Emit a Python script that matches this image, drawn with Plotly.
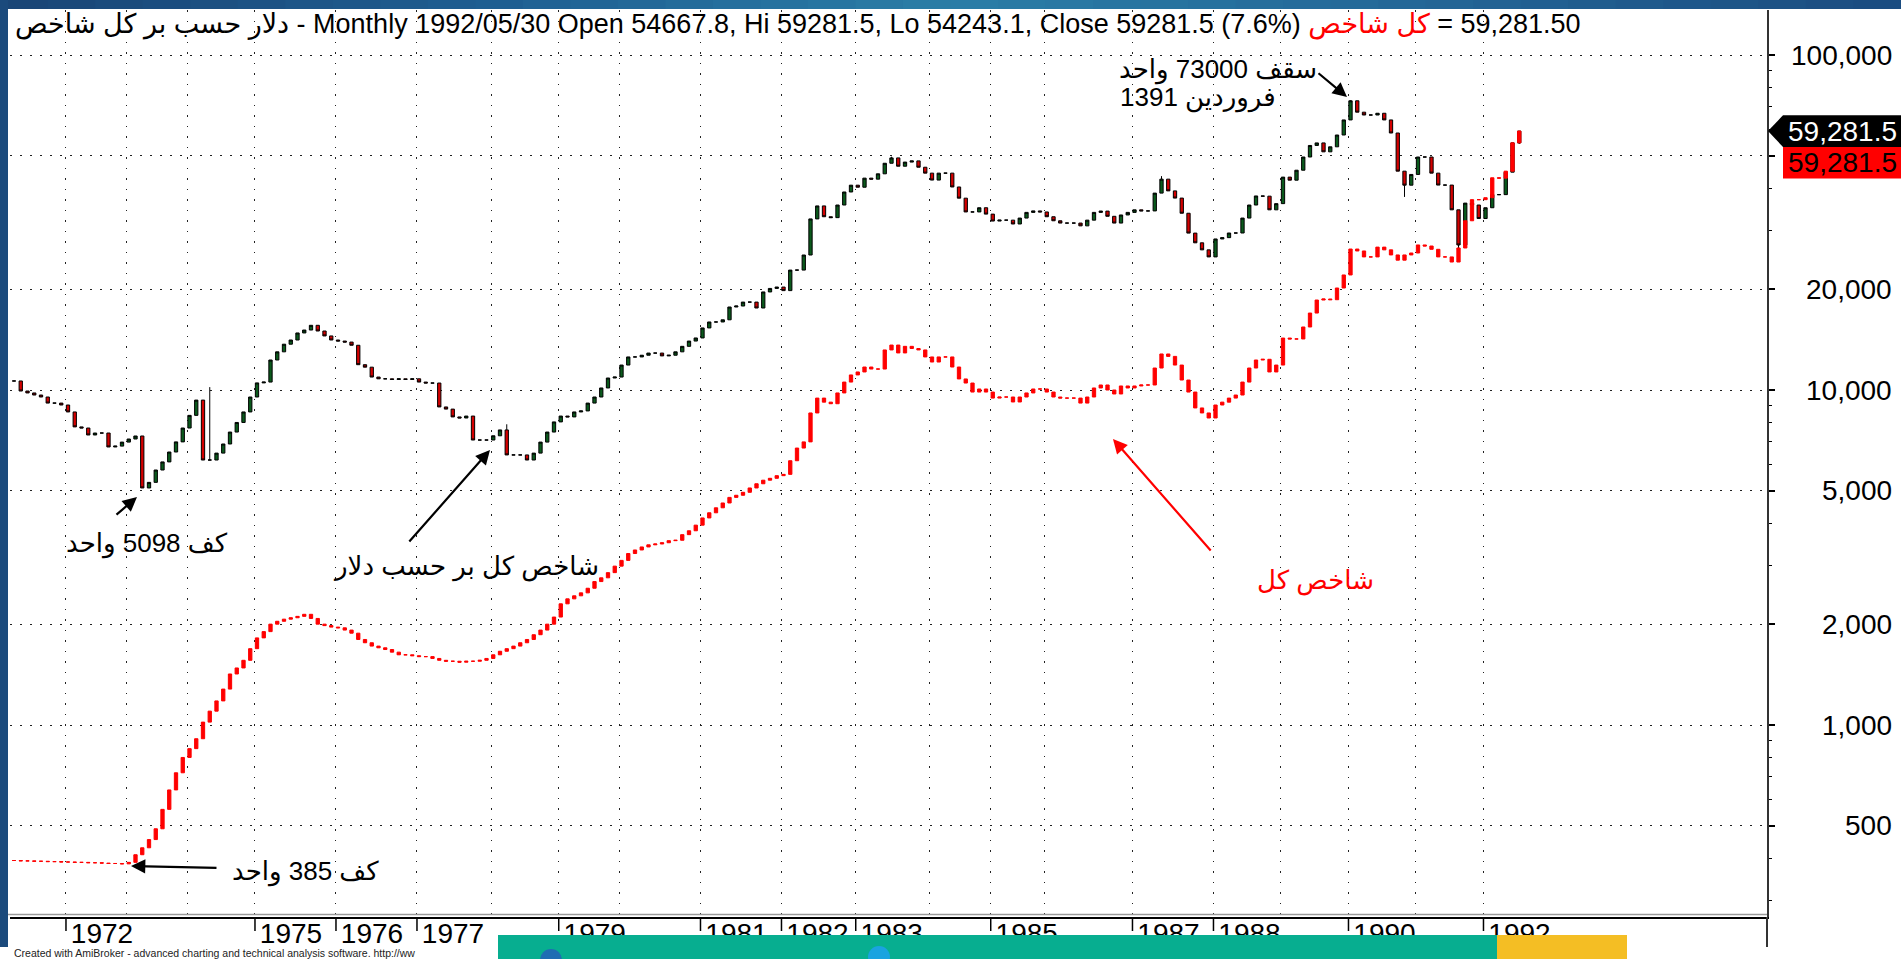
import math
import plotly.graph_objects as go

# ---------------- data ----------------
dollar_close = [
    10640, 9930, 9800, 9660, 9530, 9140, 9140, 9020, 8600, 7760,
    7700, 7340, 7440, 7440, 6760, 6800, 6990, 7140, 7290, 5100,
    5300, 5770, 6100, 6530, 7000, 7700, 8400, 9330, 6180, 6180,
    6480, 6900, 7490, 8000, 8600, 9530, 10500, 10560, 12290, 13000,
    13700, 14100, 14800, 15100, 15600, 15000, 14500, 14100, 14000, 13900,
    13600, 11900, 11700, 10930, 10800, 10800, 10750, 10800, 10750, 10800,
    10560, 10490, 10490, 8900, 8770, 8310, 8250, 8360, 7090, 7090,
    7090, 7300, 7600, 6400, 6400, 6400, 6180, 6480, 6990, 7490,
    8030, 8360, 8310, 8600, 8660, 9140, 9530, 10140, 10860, 10930,
    11870, 12550, 12550, 12700, 12890, 12890, 12640, 12700, 13000, 13500,
    14000, 14300, 15320, 15960, 15960, 16200, 17690, 17810, 18300, 18300,
    17570, 19620, 20100, 20290, 19800, 22800, 22800, 25290, 32410, 35440,
    32900, 32700, 35660, 39000, 40870, 40300, 42900, 42600, 44190, 47520,
    49300, 46560, 47900, 48300, 46240, 44400, 42330, 44400, 44400, 40370,
    37380, 34000, 34000, 35000, 33500, 31940, 32140, 32140, 31300, 32600,
    33900, 34240, 34000, 32900, 32000, 31500, 31500, 31500, 30900, 32140,
    33900, 34200, 33000, 31500, 33300, 33900, 34500, 34240, 34240, 38700,
    42600, 39300, 37400, 33700, 29400, 27500, 26200, 24960, 28240, 28500,
    29420, 29420, 32600, 35660, 37950, 37900, 34500, 36000, 43200, 42300,
    45300, 49600, 53700, 54650, 51400, 53200, 57700, 64000, 73000, 67500,
    66200, 66200, 67000, 64000, 58500, 45000, 40870, 44000, 49600, 49600,
    44400, 40900, 40900, 34500, 27100, 36130, 35660, 32500, 35000, 38300,
    38300, 44700, 54667.8, 59281.5,
]
dollar_wick_high = {29: 10200, 73: 7900, 130: 49700, 170: 43500, 198: 73300}
dollar_wick_low = {206: 37700, 214: 24900, 223: 54243.1}

index_close = [
    394, 393, 393, 392, 392, 391, 391, 390, 390, 389,
    389, 388, 388, 387, 386, 386, 385, 389, 410, 430,
    455, 490, 560, 640, 720, 800, 850, 910, 1020, 1100,
    1180, 1280, 1420, 1480, 1560, 1690, 1820, 1900, 2000, 2040,
    2070, 2090, 2110, 2140, 2080, 2000, 1980, 1960, 1950, 1920,
    1880, 1800, 1760, 1720, 1700, 1680, 1650, 1620, 1620, 1610,
    1600, 1600, 1580, 1560, 1550, 1550, 1540, 1550, 1550, 1560,
    1580, 1620, 1660, 1690, 1720, 1760, 1800, 1860, 1920, 2000,
    2100, 2300, 2380, 2430, 2480, 2560, 2680, 2750, 2850, 2980,
    3100, 3250, 3330, 3400, 3450, 3470, 3500, 3550, 3560, 3700,
    3800, 3950, 4150, 4300, 4450, 4600, 4780, 4850, 4950, 5100,
    5250, 5380, 5450, 5550, 5600, 6150, 6710, 7000, 8540, 9460,
    9200, 9100, 9800, 10560, 11090, 11320, 11710, 11550, 11550, 13170,
    13620, 12900, 13500, 13300, 13170, 12550, 12120, 12550, 12550, 11710,
    10790, 10490, 9860, 10070, 9860, 9460, 9530, 9530, 9210, 9530,
    9800, 10070, 10070, 9860, 9530, 9460, 9460, 9460, 9140, 9530,
    10140, 10350, 10000, 9730, 10280, 10140, 10280, 10350, 10350, 11630,
    12810, 12600, 11870, 10710, 9860, 8840, 8540, 8250, 9020, 9200,
    9460, 9660, 10560, 11630, 12290, 12350, 11320, 11870, 14290, 14200,
    14200, 15420, 16970, 18560, 18690, 18600, 20160, 22050, 26350, 26000,
    24960, 24960, 26700, 26200, 25300, 24410, 25300, 25640, 27100, 26900,
    26300, 24960, 24960, 24100, 26540, 32000, 37000, 37000, 37500, 43000,
    42900, 45000, 54667.8, 59281.5,
]

year_labels = ["1972", "1973", "1974", "1975", "1976", "1977", "1978", "1979",
               "1980", "1981", "1982", "1983", "1984", "1985", "1986", "1987",
               "1988", "1989", "1990", "1991", "1992"]
year_first_bar = [8, 17, 26, 36, 48, 60, 71, 81, 90, 102, 114, 125, 136, 145,
                  153, 166, 178, 188, 198, 208, 218]
shown_years = ["1972", "1975", "1976", "1977", "1979", "1981", "1982", "1983",
               "1985", "1987", "1988", "1990", "1992"]

y_tick_values = [500, 1000, 2000, 5000, 10000, 20000, 50000, 100000]
y_tick_labels = ["500", "1,000", "2,000", "5,000", "10,000", "20,000", "", "100,000"]
y_minor_values = [300, 400, 600, 700, 800, 900, 3000, 4000, 6000, 7000, 8000,
                  9000, 30000, 40000, 60000, 70000, 80000, 90000]

last_close = 59281.5
last_label = "59,281.5"

# the title line of the reference lays its Persian words out left-to-right
title_left = "دلار حسب بر کل شاخص"
title_mid = " - Monthly 1992/05/30 Open 54667.8, Hi 59281.5, Lo 54243.1, Close 59281.5 (7.6%) "
title_red = "کل شاخص"
title_end = " = 59,281.50"

# ---------------- geometry (pixels of the 1901x959 page) ----------------
W, H = 1901, 959
PL, PR, PT, PB = 10, 1767, 10, 917
BAR0_PX, BAR_PX = 14.0, 6.75
Y10K_PX, DEC_PX = 390.0, 335.0

x_range = [(PL - BAR0_PX) / BAR_PX, (PR - BAR0_PX) / BAR_PX]
y_range = [4 - (PB - Y10K_PX) / DEC_PX, 4 + (Y10K_PX - PT) / DEC_PX]


def pxx(x):
    return (x - PL) / (PR - PL)


def pxy(y):
    return (PB - y) / (PB - PT)


def val_to_py(v):
    return PB - (math.log10(v) - y_range[0]) / (y_range[1] - y_range[0]) * (PB - PT)


FONT = "Arial, Liberation Sans, DejaVu Sans, sans-serif"


def build_ohlc(closes, whi=None, wlo=None):
    whi = whi or {}
    wlo = wlo or {}
    opens = [closes[0]] + closes[:-1]
    highs = [max(o, c, whi.get(i, 0)) for i, (o, c) in enumerate(zip(opens, closes))]
    lows = [min(o, c, wlo.get(i, float("inf"))) for i, (o, c) in enumerate(zip(opens, closes))]
    return opens, highs, lows


bars = list(range(len(dollar_close)))
d_open, d_high, d_low = build_ohlc(dollar_close, dollar_wick_high, dollar_wick_low)
i_open, i_high, i_low = build_ohlc(index_close)

fig = go.Figure()
fig.add_trace(go.Candlestick(
    x=bars, open=d_open, high=d_high, low=d_low, close=dollar_close,
    increasing=dict(line=dict(color="#000000", width=1), fillcolor="#0a5a1c"),
    decreasing=dict(line=dict(color="#000000", width=1), fillcolor="#d40000"),
    whiskerwidth=0, hoverinfo="skip", showlegend=False,
))
fig.add_trace(go.Candlestick(
    x=bars, open=i_open, high=i_high, low=i_low, close=index_close,
    increasing=dict(line=dict(color="#ff0000", width=1), fillcolor="#ff0000"),
    decreasing=dict(line=dict(color="#ff0000", width=1), fillcolor="#ff0000"),
    whiskerwidth=0, hoverinfo="skip", showlegend=False,
))

tick_pos = [b - 0.3 for b in year_first_bar]
tick_text = [y if y in shown_years else "" for y in year_labels]

shapes = []
annotations = []

# top gradient band
stops = [(0, (26, 69, 118)), (500, (31, 95, 146)), (950, (43, 126, 167)),
         (1400, (36, 104, 152)), (1901, (27, 76, 128))]
seg = 40
for k in range(seg):
    x0 = W * k / seg
    x1 = W * (k + 1) / seg
    xm = (x0 + x1) / 2
    for (a, ca), (b, cb) in zip(stops[:-1], stops[1:]):
        if a <= xm <= b:
            t = (xm - a) / (b - a)
            col = tuple(int(ca[j] + (cb[j] - ca[j]) * t) for j in range(3))
            break
    shapes.append(dict(type="rect", xref="paper", yref="paper", layer="above",
                       x0=pxx(x0), x1=pxx(x1 + 1), y0=pxy(0), y1=pxy(9),
                       fillcolor="rgb(%d,%d,%d)" % col, line=dict(width=0)))
# left band
shapes.append(dict(type="rect", xref="paper", yref="paper", layer="above",
                   x0=pxx(0), x1=pxx(8), y0=pxy(0), y1=pxy(947),
                   fillcolor="#1b4a7c", line=dict(width=0)))
# 3D double line above the x-axis
shapes.append(dict(type="line", xref="paper", yref="paper", layer="above",
                   x0=pxx(8), x1=pxx(PR), y0=pxy(914.5), y1=pxy(914.5),
                   line=dict(color="#9a9a9a", width=1.5)))
# right axis extension through the label strip
shapes.append(dict(type="line", xref="paper", yref="paper", layer="above",
                   x0=1, x1=1, y0=0, y1=pxy(947), line=dict(color="#333333", width=2)))
# short tick lines next to the shown year labels
for p, y in zip(tick_pos, year_labels):
    if y in shown_years:
        shapes.append(dict(type="line", xref="x", yref="paper", layer="above",
                           x0=p, x1=p, y0=0, y1=pxy(931),
                           line=dict(color="#000000", width=1.5)))

# price tags at the right
ty = val_to_py(last_close)
tag_top, tag_bot = ty - 15.7, ty + 16
path = "M {} {} L {} {} L {} {} L {} {} L {} {} Z".format(
    pxx(1768), pxy(ty), pxx(1783), pxy(tag_top), pxx(1905), pxy(tag_top),
    pxx(1905), pxy(tag_bot), pxx(1783), pxy(tag_bot))
shapes.append(dict(type="path", xref="paper", yref="paper", layer="above", path=path,
                   fillcolor="#000000", line=dict(width=0)))
shapes.append(dict(type="rect", xref="paper", yref="paper", layer="above",
                   x0=pxx(1783), x1=pxx(1905), y0=pxy(tag_bot), y1=pxy(tag_bot + 31.5),
                   fillcolor="#ff0000", line=dict(width=0)))
annotations.append(dict(xref="paper", yref="paper", x=pxx(1786), y=pxy(ty),
                        xanchor="left", yanchor="middle", showarrow=False,
                        text=last_label, font=dict(family=FONT, size=28, color="#ffffff")))
annotations.append(dict(xref="paper", yref="paper", x=pxx(1786), y=pxy(tag_bot + 15.7),
                        xanchor="left", yanchor="middle", showarrow=False,
                        text=last_label, font=dict(family=FONT, size=28, color="#000000")))

# bottom banner
shapes.append(dict(type="rect", xref="paper", yref="paper", layer="above",
                   x0=pxx(498), x1=pxx(1497), y0=pxy(935), y1=pxy(962),
                   fillcolor="#07ae90", line=dict(width=0)))
shapes.append(dict(type="rect", xref="paper", yref="paper", layer="above",
                   x0=pxx(1497), x1=pxx(1627), y0=pxy(935), y1=pxy(962),
                   fillcolor="#f4be24", line=dict(width=0)))
shapes.append(dict(type="circle", xref="paper", yref="paper", layer="above",
                   x0=pxx(540), x1=pxx(562), y0=pxy(949), y1=pxy(971),
                   fillcolor="#1f6db3", line=dict(width=0)))
shapes.append(dict(type="circle", xref="paper", yref="paper", layer="above",
                   x0=pxx(868), x1=pxx(890), y0=pxy(946), y1=pxy(968),
                   fillcolor="#1aa3e0", line=dict(width=0)))

# right-aligned y tick labels
for v, lab in zip(y_tick_values, y_tick_labels):
    if lab:
        annotations.append(dict(xref="paper", yref="y", x=pxx(1894), y=math.log10(v),
                                xanchor="right", yanchor="middle", showarrow=False,
                                text=lab, font=dict(family=FONT, size=28, color="#000000")))

# title line
annotations.append(dict(
    xref="paper", yref="paper", x=pxx(13), y=pxy(25), xanchor="left", yanchor="middle",
    showarrow=False,
    text="\u200e" + title_left + "\u200e" + title_mid + '<span style="color:#ff0000">'
         + title_red + "</span>\u200e" + title_end,
    font=dict(family=FONT, size=27, color="#000000")))

# footer
annotations.append(dict(
    xref="paper", yref="paper", x=pxx(12), y=pxy(953.5), xanchor="left", yanchor="middle",
    showarrow=False,
    text="Created with AmiBroker - advanced charting and technical analysis software. http://ww",
    font=dict(family=FONT, size=10.5, color="#222222")))

# text notes
notes = [
    ("سقف 73000 واحد", 1117, 69, "#000000"),
    ("فروردین 1391", 1118, 98, "#000000"),
    ("کف 5098 واحد", 64, 543, "#000000"),
    ("شاخص کل بر حسب دلار", 331, 566, "#000000"),
    ("شاخص کل", 1255, 580, "#ff0000"),
    ("کف 385 واحد", 230, 871, "#000000"),
]
for txt, x, y, col in notes:
    annotations.append(dict(xref="paper", yref="paper", x=pxx(x), y=pxy(y),
                            xanchor="left", yanchor="middle", showarrow=False,
                            text=txt, font=dict(family=FONT, size=26, color=col)))

# arrows: (tail_x, tail_y, tip_x, tip_y, colour)
arrows = [
    (1317, 72, 1347, 97, "#000000"),
    (115, 516, 137, 497, "#000000"),
    (408, 543, 490, 450, "#000000"),
    (1212, 552, 1113, 439, "#ff0000"),
    (218, 868, 131, 866, "#000000"),
]
for tx, tyy, hx, hy, col in arrows:
    annotations.append(dict(xref="paper", yref="paper", x=pxx(hx), y=pxy(hy),
                            ax=tx - hx, ay=tyy - hy, axref="pixel", ayref="pixel",
                            text="", showarrow=True, arrowhead=2, arrowsize=1.3,
                            arrowwidth=2.2, arrowcolor=col, standoff=0))

fig.update_layout(
    width=W, height=H, autosize=False,
    margin=dict(l=PL, r=W - PR, t=PT, b=H - PB, pad=0, autoexpand=False),
    paper_bgcolor="#ffffff", plot_bgcolor="#ffffff",
    font=dict(family=FONT, color="#000000"),
    showlegend=False, boxmode="overlay",
    shapes=shapes, annotations=annotations,
    xaxis=dict(
        range=x_range, rangeslider=dict(visible=False), fixedrange=True,
        automargin=False,
        tickmode="array", tickvals=tick_pos, ticktext=tick_text,
        tickfont=dict(family=FONT, size=28, color="#000000"),
        ticks="", ticklabelshift=36, ticklabelstandoff=-10,
        showgrid=True, gridcolor="#222222", gridwidth=1, griddash="1.5px,9px",
        showline=True, linecolor="#000000", linewidth=2, zeroline=False,
    ),
    yaxis=dict(
        type="log", range=y_range, side="right", fixedrange=True,
        automargin=False,
        tickmode="array", tickvals=y_tick_values, showticklabels=False,
        ticks="outside", ticklen=6, tickwidth=1.5, tickcolor="#000000",
        minor=dict(tickmode="array", tickvals=y_minor_values, ticks="outside",
                   ticklen=3, tickwidth=1.2, tickcolor="#000000", showgrid=False),
        showgrid=True, gridcolor="#222222", gridwidth=1, griddash="1.5px,8.5px",
        showline=True, linecolor="#333333", linewidth=2, zeroline=False,
    ),
)

fig.write_html("out.html", include_plotlyjs=True, full_html=True,
               config={"displayModeBar": False},
               post_script="document.body.style.margin='0';document.body.style.overflow='hidden';")
